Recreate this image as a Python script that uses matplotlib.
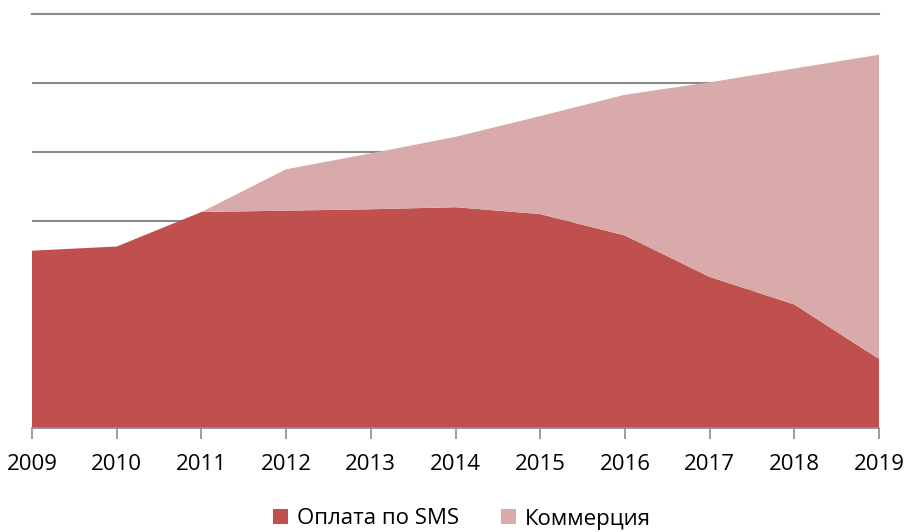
import matplotlib

matplotlib.use("Agg")
import matplotlib.pyplot as plt
from matplotlib.patches import Patch

plt.rcParams["font.family"] = ["Open Sans", "DejaVu Sans"]

years = [2009, 2010, 2011, 2012, 2013, 2014, 2015, 2016, 2017, 2018, 2019]
sms = [25.7, 26.3, 31.3, 31.5, 31.7, 32.0, 31.0, 27.9, 21.9, 17.9, 10.0]
commerce = [0.0, 0.0, 0.0, 6.0, 8.1, 10.2, 14.2, 20.4, 28.2, 34.2, 44.1]
labels = ["Оплата по SMS", "Коммерция"]
colors = ["#c0504d", "#d9aaaa"]


def main():
    fig = plt.figure(figsize=(9.07, 5.32), dpi=100)
    ax = fig.add_axes([32 / 907, 104 / 532, 847 / 907, 414 / 532])

    ax.stackplot(years, sms, commerce, colors=colors, linewidth=0, zorder=2)

    ax.set_xlim(2009, 2019)
    ax.set_ylim(0, 60)
    ax.set_xticks(years)
    ax.set_xticklabels([str(y) for y in years], fontsize=16, color="black")
    ax.set_yticks(range(0, 61, 10))
    ax.set_yticklabels([])
    ax.yaxis.grid(True, color="#8a8a8a", linewidth=1.5, zorder=1)
    # top gridline sits on the axes edge, keep it whole
    ax.get_ygridlines()[-1].set_clip_on(False)
    ax.set_axisbelow(True)

    for side in ["top", "right", "left"]:
        ax.spines[side].set_visible(False)
    ax.spines["bottom"].set_color("#8c8c8c")
    ax.spines["bottom"].set_linewidth(1.2)
    ax.spines["bottom"].set_zorder(3)
    ax.tick_params(axis="x", length=8, width=1.2, color="#8c8c8c", pad=11)
    ax.tick_params(axis="y", length=0)

    handles = [Patch(facecolor=c, edgecolor="none") for c in colors]
    fig.legend(handles, labels, loc="center", bbox_to_anchor=(462 / 907, 1 - 519 / 532),
               ncol=2, frameon=False, fontsize=16, handlelength=0.65, handleheight=0.65,
               handletextpad=0.4, columnspacing=1.9)

    fig.savefig("out.png", dpi=100)
    plt.close(fig)


if __name__ == "__main__":
    main()
